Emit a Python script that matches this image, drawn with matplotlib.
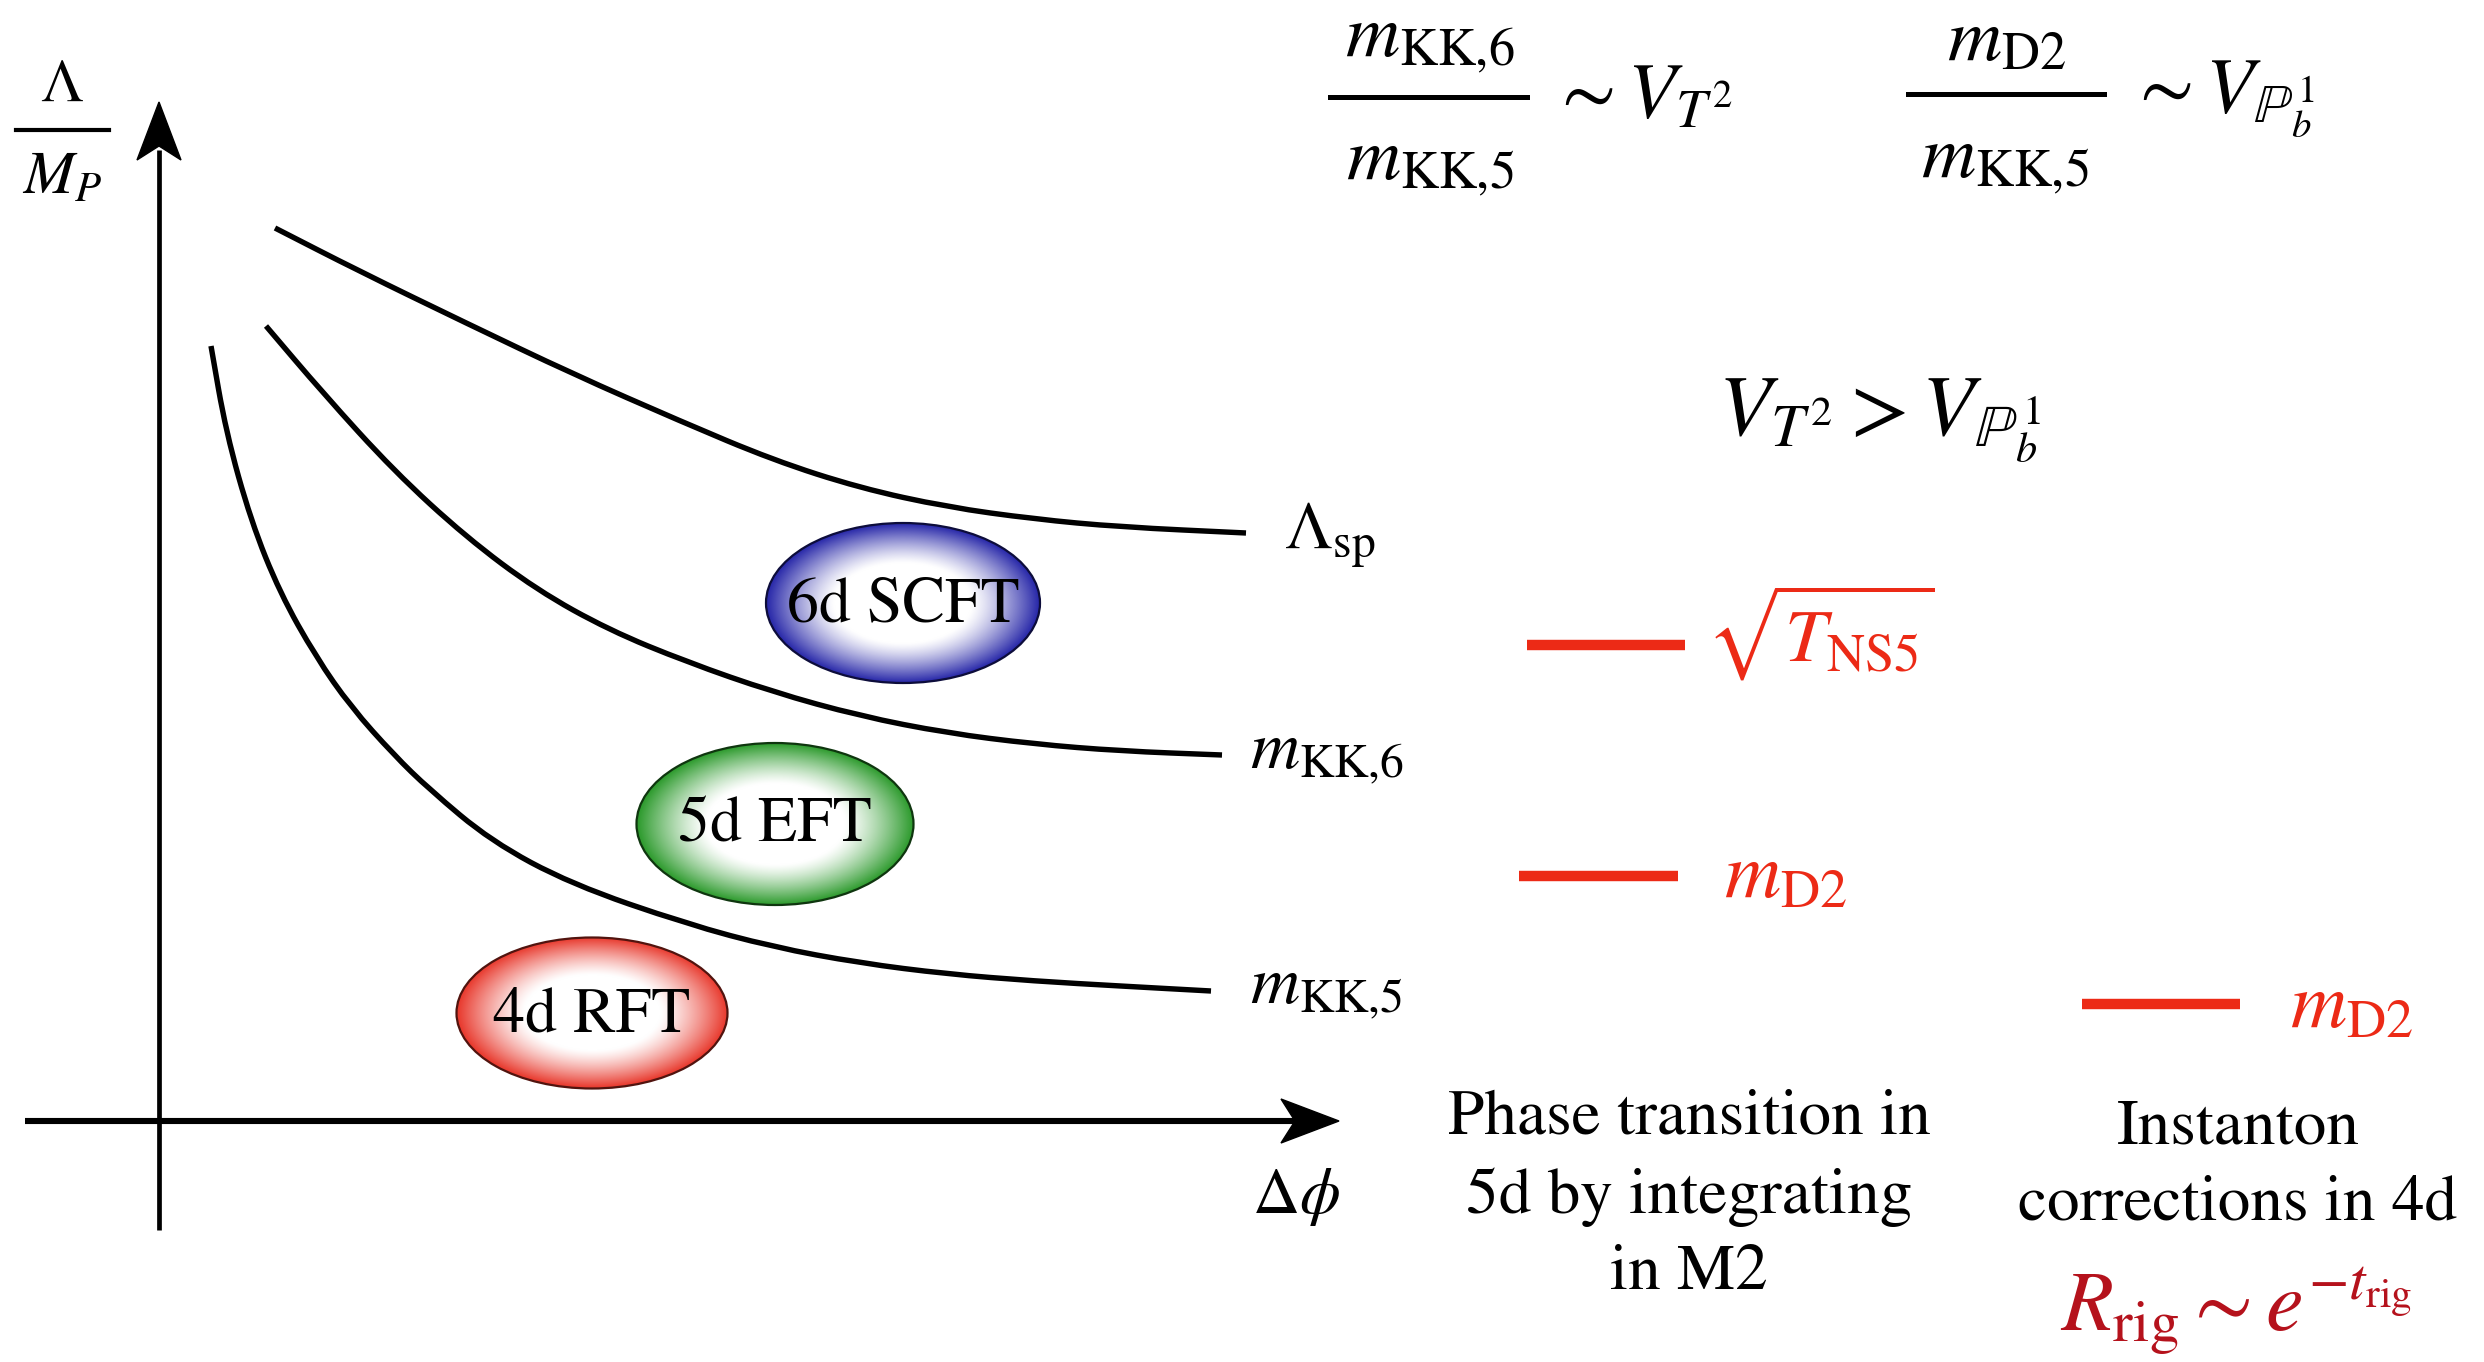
"""Energy-scale sketch: species scale and KK towers versus field distance."""

import numpy as np
import matplotlib
matplotlib.use("Agg")
import matplotlib.pyplot as plt
from matplotlib.colors import to_rgb
from matplotlib.patches import Ellipse, Polygon, PathPatch
from matplotlib.path import Path

plt.rcParams["font.family"] = ["STIXGeneral", "DejaVu Serif"]
plt.rcParams["mathtext.fontset"] = "stix"

W, H = 2484, 1362

# scale curves, traced in canvas pixels (x to the right, y downwards)
lam_sp_x = [275, 359, 466, 573, 680, 773, 860, 947, 1034, 1120, 1246]
lam_sp_y = [228, 271, 323, 374, 421, 460, 488, 507, 519, 527, 533]

m_kk6_x = [266, 323, 394, 466, 537, 609, 687, 773, 860, 947, 1034, 1120, 1222]
m_kk6_y = [326, 393, 471, 537, 590, 630, 662, 692, 716, 733, 744, 751, 755]

m_kk5_x = [211, 226, 251, 280, 316, 351, 394, 429, 491, 571, 687, 773, 860, 947, 1034, 1120, 1211]
m_kk5_y = [346, 432, 521, 593, 657, 707, 755, 789, 841, 884, 924, 947, 963, 974, 981, 986, 991]

curve_labels = [r"$\Lambda_{\text{sp}}$", r"$m_{\text{KK,6}}$", r"$m_{\text{KK,5}}$"]

regions = ["6d SCFT", "5d EFT", "4d RFT"]
region_colors = ["#2626a8", "#2c9a2c", "#e8382c"]

red = "#ec2a16"
dark_red = "#b5121c"


def smooth_path(xs, ys):
    """Quadratic B-spline style path using the traced points as control points."""
    pts = list(zip(xs, ys))
    verts = [pts[0], ((pts[0][0] + pts[1][0]) / 2, (pts[0][1] + pts[1][1]) / 2)]
    codes = [Path.MOVETO, Path.LINETO]
    for i in range(1, len(pts) - 1):
        nxt = pts[i + 1]
        mid = ((pts[i][0] + nxt[0]) / 2, (pts[i][1] + nxt[1]) / 2)
        verts += [pts[i], mid]
        codes += [Path.CURVE3, Path.CURVE3]
    verts.append(pts[-1])
    codes.append(Path.LINETO)
    return Path(verts, codes)


def glossy_ellipse(ax, cx, cy, w, h, color, label):
    n = 300
    g = np.linspace(-1, 1, n)
    X, Y = np.meshgrid(g, g)
    r = np.sqrt(X ** 2 + Y ** 2)
    t = np.clip((r - 0.5) / 0.5, 0, 1) ** 1.25
    rgb = np.array(to_rgb(color))
    img = (1 - t)[..., None] + t[..., None] * rgb
    im = ax.imshow(img, extent=(cx - w / 2, cx + w / 2, cy + h / 2, cy - h / 2),
                   aspect="auto", interpolation="bilinear", zorder=3)
    edge = tuple(c * 0.35 for c in rgb)
    e = Ellipse((cx, cy), w, h, facecolor="none", edgecolor=edge, lw=1.6, zorder=4)
    ax.add_patch(e)
    im.set_clip_path(e)
    ax.text(cx, cy + 18, label, ha="center", va="baseline", fontsize=46, zorder=5)


def arrow_head(ax, tip, direction, length=58, half=22, notch=14):
    tx, ty = tip
    dx, dy = direction
    px, py = -dy, dx
    bx, by = tx - dx * length, ty - dy * length
    pts = [(tx, ty),
           (bx + px * half, by + py * half),
           (bx + dx * notch, by + dy * notch),
           (bx - px * half, by - py * half)]
    ax.add_patch(Polygon(pts, closed=True, facecolor="black", edgecolor="black", lw=1, zorder=6))


fig = plt.figure(figsize=(W / 100, H / 100), dpi=100)
ax = fig.add_axes([0, 0, 1, 1])
ax.axis("off")

# axes of the sketch
x0, y0 = 159, 1121
ax.plot([x0, x0], [1230, 150], color="black", lw=3.4, solid_capstyle="butt", zorder=5)
arrow_head(ax, (x0, 102), (0, -1))
ax.plot([25, 1300], [y0, y0], color="black", lw=4.4, solid_capstyle="butt", zorder=5)
arrow_head(ax, (1339, y0), (1, 0))

ax.text(62, 101, r"$\Lambda$", ha="center", va="baseline", fontsize=44)
ax.plot([16, 109], [130, 130], color="black", lw=3.0)
ax.text(62, 194, r"$M_P$", ha="center", va="baseline", fontsize=44)
ax.text(1252, 1213, r"$\Delta\phi$", ha="left", va="baseline", fontsize=47)

# scale curves
curves = [(lam_sp_x, lam_sp_y), (m_kk6_x, m_kk6_y), (m_kk5_x, m_kk5_y)]
for (cx, cy), lab, lx, ly in zip(curves, curve_labels, [1284, 1250, 1250], [548, 768, 1003]):
    ax.add_patch(PathPatch(smooth_path(cx, cy), facecolor="none", edgecolor="black",
                           lw=3.9, capstyle="butt", joinstyle="round", zorder=2))
    ax.text(lx, ly, lab, ha="left", va="baseline", fontsize=49)

# EFT regions
for lab, col, (ex, ey, ew, eh) in zip(regions, region_colors,
                                      [(903, 603, 274, 160), (775, 824, 277, 162), (592, 1013, 271, 151)]):
    glossy_ellipse(ax, ex, ey, ew, eh, col, lab)

# ratios at the top
ax.text(1430, 57, r"$m_{\text{KK,6}}$", ha="center", va="baseline", fontsize=54)
ax.plot([1330, 1527], [97, 97], color="black", lw=3.6)
ax.text(1430, 180, r"$m_{\text{KK,5}}$", ha="center", va="baseline", fontsize=54)
ax.text(1550, 118, r"$\sim V_{T^2}$", ha="left", va="baseline", fontsize=57)

ax.text(2006, 60, r"$m_{\text{D2}}$", ha="center", va="baseline", fontsize=54)
ax.plot([1908, 2104], [94, 94], color="black", lw=3.6)
ax.text(2005, 178, r"$m_{\text{KK,5}}$", ha="center", va="baseline", fontsize=54)
ax.text(2128, 112, r"$\sim V_{\mathbb{P}^1_b}$", ha="left", va="baseline", fontsize=57)

ax.text(1718, 435, r"$V_{T^2} > V_{\mathbb{P}^1_b}$", ha="left", va="baseline", fontsize=62)

# red scales
ax.plot([1527, 1685], [645, 645], color=red, lw=7.5, solid_capstyle="butt")
ax.text(1706, 662, r"$\sqrt{T_{\text{NS5}}}$", ha="left", va="baseline", fontsize=54, color=red)
ax.plot([1519, 1678], [876, 876], color=red, lw=7.5, solid_capstyle="butt")
ax.text(1724, 898, r"$m_{\text{D2}}$", ha="left", va="baseline", fontsize=56, color=red)
ax.plot([2082, 2240], [1004, 1004], color=red, lw=7.5, solid_capstyle="butt")
ax.text(2290, 1027, r"$m_{\text{D2}}$", ha="left", va="baseline", fontsize=56, color=red)

# captions
for txt, yb in zip(["Phase transition in", "5d by integrating", "in M2"], [1134, 1213, 1289]):
    ax.text(1689, yb, txt, ha="center", va="baseline", fontsize=47)
for txt, yb in zip(["Instanton", "corrections in 4d"], [1143, 1219]):
    ax.text(2238, yb, txt, ha="center", va="baseline", fontsize=47)
ax.text(2236, 1332, r"$R_{\text{rig}} \sim e^{-t_{\text{rig}}}$", ha="center", va="baseline",
        fontsize=61, color=dark_red)

ax.set_xlim(0, W)
ax.set_ylim(H, 0)
fig.savefig("out.png", dpi=100, facecolor="white")
